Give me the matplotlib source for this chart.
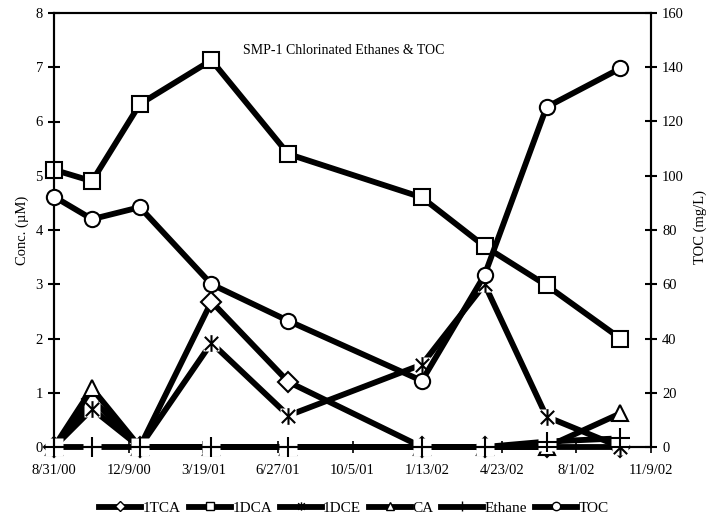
import datetime as dt
import matplotlib
matplotlib.use("Agg")
import matplotlib.pyplot as plt
import matplotlib.dates as mdates
from matplotlib.path import Path
from matplotlib.lines import Line2D

# ---------------- data ----------------
dates = ["2000-08-31", "2000-10-21", "2000-12-24", "2001-03-30", "2001-07-11",
         "2002-01-06", "2002-03-31", "2002-06-22", "2002-09-29"]
tca = [0, 0.88, 0, 2.68, 1.2, 0, 0, 0, 0]
dca = [5.11, 4.9, 6.32, 7.13, 5.4, 4.6, 3.7, 2.98, 2.0]
dce = [0, 0.7, 0, 1.92, 0.58, 1.52, 3.0, 0.56, 0]
ca = [0, 1.08, 0, 0, 0, 0, 0, 0, 0.62]
ethane = [0, 0, 0, 0, 0, 0, 0, 0.1, 0.16]
toc = [92.3, 84, 88.4, 60, 46.5, 24.4, 63.4, 125.3, 139.6]

x_start, x_end, x_step = "2000-08-31", "2002-11-09", 100
left_ticks = list(range(0, 9))
right_ticks = list(range(0, 161, 20))
title = "SMP-1 Chlorinated Ethanes & TOC"
labels = ["1TCA", "1DCA", "1DCE", "CA", "Ethane", "TOC"]

# ---------------- style ----------------
FONT = ["Liberation Serif", "DejaVu Serif"]
plt.rcParams["font.family"] = FONT
plt.rcParams["font.size"] = 10.5

def d2n(s):
    return mdates.date2num(dt.datetime.strptime(s, "%Y-%m-%d"))

x = [d2n(d) for d in dates]
x0, x1 = d2n(x_start), d2n(x_end)

asterisk = Path([(-1, -1), (1, 1), (-1, 1), (1, -1), (0, -1.25), (0, 1.25)],
                [Path.MOVETO, Path.LINETO] * 3)

W, H = 709, 521
fig = plt.figure(figsize=(W / 100, H / 100), dpi=100)
ax = fig.add_axes([54 / W, 74 / H, 597 / W, 434 / H])
ax2 = ax.twinx()

LW = 4.2
MEW = 1.5
common = dict(color="black", clip_on=False)

# 1TCA - diamonds
ax.plot(x, tca, lw=LW, zorder=2, **common)
ax.plot(x, tca, ls="none", marker="D", ms=10, mfc="white", mec="black", mew=MEW, zorder=3, clip_on=False)
# 1DCA - squares
ax.plot(x, dca, lw=LW, zorder=4, **common)
ax.plot(x, dca, ls="none", marker="s", ms=12, mfc="white", mec="black", mew=MEW, zorder=5, clip_on=False)
# 1DCE - asterisks
ax.plot(x, dce, lw=LW, zorder=6, **common)
ax.plot(x, dce, ls="none", marker="s", ms=11, mfc="white", mec="none", zorder=7, clip_on=False)
ax.plot(x, dce, ls="none", marker=asterisk, ms=12, mec="black", mew=MEW, zorder=7.5, clip_on=False)
# CA - triangles
ax.plot(x, ca, lw=LW, zorder=8, **common)
ax.plot(x, ca, ls="none", marker="^", ms=12, mfc="white", mec="black", mew=MEW, zorder=9, clip_on=False)
# Ethane - plus
ax.plot(x, ethane, lw=LW, zorder=10, **common)
ax.plot(x, ethane, ls="none", marker="s", ms=12.5, mfc="white", mec="none", zorder=11, clip_on=False)
ax.plot(x, ethane, ls="none", marker="+", ms=14, mec="black", mew=MEW, zorder=12, clip_on=False)
# TOC - circles (secondary axis)
ax2.plot(x, toc, lw=LW, zorder=2, **common)
ax2.plot(x, toc, ls="none", marker="o", ms=11, mfc="white", mec="black", mew=MEW, zorder=3, clip_on=False)

# axes limits / ticks
ax.set_xlim(x0, x1)
ax.set_ylim(0, 8)
ax2.set_ylim(0, 160)
xt = [x0 + i * x_step for i in range(int((x1 - x0) // x_step) + 1)]
ax.set_xticks(xt)
ax.set_xticklabels([f"{mdates.num2date(v).month}/{mdates.num2date(v).day}/{mdates.num2date(v).strftime('%y')}" for v in xt])
ax.set_yticks(left_ticks)
ax2.set_yticks(right_ticks)

for a in (ax, ax2):
    for s in a.spines.values():
        s.set_linewidth(1.5)
ax.tick_params(axis="y", direction="inout", length=8, width=1.5, pad=4)
ax.tick_params(axis="x", direction="inout", length=8, width=1.2, pad=8)
ax2.tick_params(axis="y", direction="inout", length=8, width=1.5, pad=4)

ax.text((243 - 54) / 597, (447 - 50) / 434, title, transform=ax.transAxes,
        ha="left", va="center", fontsize=10)

fig.text(22 / W, 1 - 230 / H, "Conc. (\u00b5M)", rotation=90, ha="center", va="center", fontsize=10.5)
fig.text(700 / W, 1 - 227 / H, "TOC (mg/L)", rotation=90, ha="center", va="center", fontsize=10.5)

# legend
handles = [
    Line2D([], [], color="black", lw=LW, marker="D", ms=5, mfc="white", mec="black", mew=1),
    Line2D([], [], color="black", lw=LW, marker="s", ms=6, mfc="white", mec="black", mew=1),
    Line2D([], [], color="black", lw=LW, marker=asterisk, ms=6, mec="black", mew=1),
    Line2D([], [], color="black", lw=LW, marker="^", ms=6, mfc="white", mec="black", mew=1),
    Line2D([], [], color="black", lw=LW, marker="+", ms=7, mec="black", mew=1),
    Line2D([], [], color="black", lw=LW, marker="o", ms=6, mfc="white", mec="black", mew=1),
]
fig.legend(handles, labels, loc="center", bbox_to_anchor=(354 / W, 1 - 508 / H), ncol=6,
           frameon=False, fontsize=11, handlelength=2.75, handletextpad=0.1, columnspacing=0.5)

fig.savefig("out.png", dpi=100)
